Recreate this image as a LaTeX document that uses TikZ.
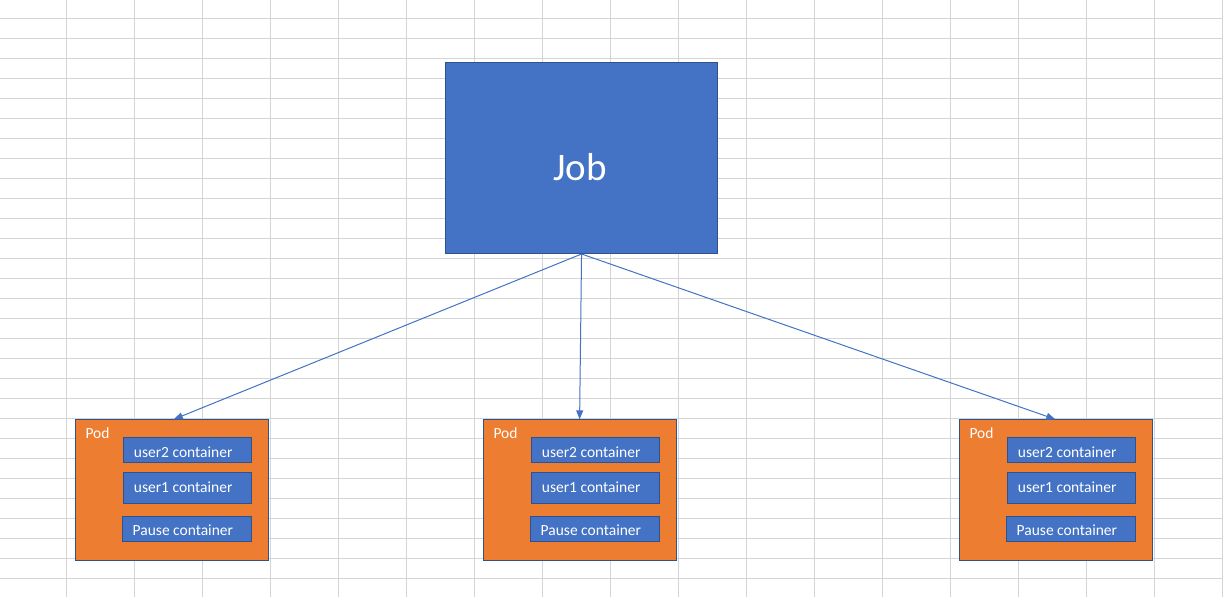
\documentclass[tikz,border=0pt]{standalone}
\usepackage{fontspec}
\setmainfont{Carlito}
\usetikzlibrary{arrows.meta}
\definecolor{gridc}{HTML}{D4D4D4}
\definecolor{accblue}{HTML}{4472C4}
\definecolor{darkblue}{HTML}{2F528F}
\definecolor{podorange}{HTML}{ED7D31}
\tikzset{
  gridline/.style={draw=gridc, line width=1pt},
  jobbox/.style={draw=darkblue, fill=accblue, line width=1pt, anchor=north west, inner sep=0pt},
  podbox/.style={draw=darkblue, fill=podorange, line width=1pt, anchor=north west, inner sep=0pt, minimum width=193pt, minimum height=141pt},
  cbox/.style={draw=darkblue, fill=accblue, line width=1pt, anchor=north west, inner sep=0pt, minimum width=128pt},
  ctext/.style={text=white, anchor=base west, inner sep=0pt, font=\fontsize{15.5}{18}\selectfont},
  arrowline/.style={draw=accblue, line width=1pt, -{Triangle[length=9pt,width=7pt]}}
}
\begin{document}
\begin{tikzpicture}[x=1pt,y=-1pt]
\useasboundingbox (0,0) rectangle (1223,597);
\fill[white] (0,0) rectangle (1223,597);
% spreadsheet grid
\foreach \i in {0,...,17} {
  \draw[gridline] ({66.3+68*\i},0) -- ({66.3+68*\i},597);
}
\foreach \j in {0,...,28} {
  \draw[gridline] (0,{18.3+20*\j}) -- (1223,{18.3+20*\j});
}
% Job
\node[jobbox, minimum width=271.5pt, minimum height=190.7pt] (job) at (445.3,62.3) {};
\node[text=white, anchor=base, inner sep=0pt, font=\fontsize{39}{46}\selectfont] (jobt) at (580,180.7) {Job};
% pods
\foreach \n/\px in {1/75.3, 2/483.3, 3/959.3} {
  \node[podbox] (pod\n) at (\px,419.3) {};
  \node[ctext] (podt\n) at ({\px+10},438.7) {Pod};
  \node[cbox, minimum height=25pt] (ua\n) at ({\px+48},437.3) {};
  \node[ctext] (uat\n) at ({\px+58.4},457.3) {user2 container};
  \node[cbox, minimum height=31.3pt] (ub\n) at ({\px+48},472) {};
  \node[ctext] (ubt\n) at ({\px+58.4},492.3) {user1 container};
  \node[cbox, minimum width=129pt, minimum height=25pt] (pc\n) at ({\px+47},516.3) {};
  \node[ctext] (pct\n) at ({\px+57.2},535.7) {Pause container};
}
% arrows
\draw[arrowline] (job.south) -- ([xshift=1.5pt]pod1.north);
\draw[arrowline] (job.south) -- ([xshift=-0.7pt]pod2.north);
\draw[arrowline] (job.south) -- ([xshift=-1pt]pod3.north);
\end{tikzpicture}
\end{document}
